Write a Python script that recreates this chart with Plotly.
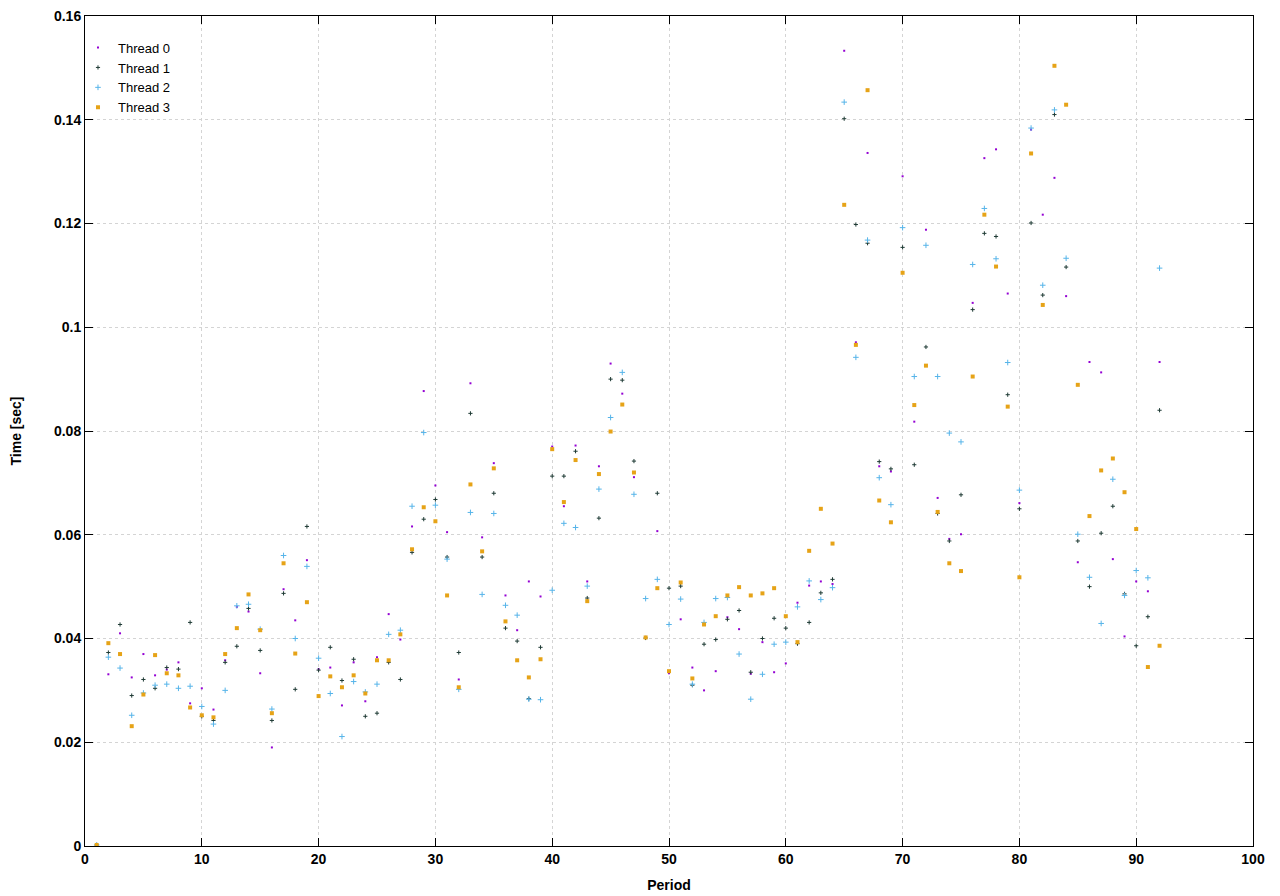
import plotly.graph_objects as go

periods = list(range(1, 93))

thread0 = [0.0002, 0.0331, 0.0410, 0.0325, 0.0370, 0.0329, 0.0340, 0.0354, 0.0275, 0.0304,
           0.0263, 0.0358, 0.0461, 0.0452, 0.0333, 0.0190, 0.0495, 0.0435, 0.0551, 0.0341,
           0.0344, 0.0271, 0.0354, 0.0279, 0.0364, 0.0447, 0.0398, 0.0616, 0.0877, 0.0695,
           0.0605, 0.0321, 0.0892, 0.0595, 0.0738, 0.0483, 0.0416, 0.0510, 0.0481, 0.0770,
           0.0655, 0.0772, 0.0510, 0.0732, 0.0930, 0.0872, 0.0711, 0.0403, 0.0607, 0.0333,
           0.0437, 0.0344, 0.0300, 0.0337, 0.0441, 0.0418, 0.0332, 0.0393, 0.0335, 0.0352,
           0.0469, 0.0502, 0.0510, 0.0505, 0.1533, 0.0971, 0.1336, 0.0732, 0.0722, 0.1291,
           0.0818, 0.1188, 0.0671, 0.0592, 0.0601, 0.1047, 0.1326, 0.1343, 0.1065, 0.0661,
           0.1381, 0.1217, 0.1288, 0.1060, 0.0547, 0.0933, 0.0913, 0.0553, 0.0404, 0.0510,
           0.0491, 0.0933]

thread1 = [0.0002, 0.0373, 0.0427, 0.0290, 0.0321, 0.0304, 0.0344, 0.0341, 0.0431, 0.0250,
           0.0242, 0.0354, 0.0385, 0.0458, 0.0377, 0.0242, 0.0487, 0.0302, 0.0616, 0.0339,
           0.0383, 0.0319, 0.0360, 0.0250, 0.0256, 0.0354, 0.0321, 0.0566, 0.0630, 0.0668,
           0.0557, 0.0373, 0.0834, 0.0557, 0.0680, 0.0420, 0.0395, 0.0284, 0.0383, 0.0713,
           0.0713, 0.0761, 0.0478, 0.0632, 0.0900, 0.0898, 0.0742, 0.0401, 0.0680, 0.0497,
           0.0501, 0.0310, 0.0389, 0.0398, 0.0437, 0.0454, 0.0335, 0.0400, 0.0439, 0.0420,
           0.0390, 0.0431, 0.0488, 0.0514, 0.1402, 0.1198, 0.1162, 0.0741, 0.0727, 0.1154,
           0.0735, 0.0962, 0.0641, 0.0588, 0.0677, 0.1034, 0.1181, 0.1175, 0.0870, 0.0650,
           0.1201, 0.1062, 0.1410, 0.1116, 0.0588, 0.0500, 0.0603, 0.0655, 0.0486, 0.0386,
           0.0442, 0.0840]

thread2 = [0.0002, 0.0364, 0.0343, 0.0252, 0.0295, 0.0310, 0.0312, 0.0304, 0.0308, 0.0269,
           0.0235, 0.0300, 0.0463, 0.0466, 0.0418, 0.0264, 0.0560, 0.0400, 0.0539, 0.0362,
           0.0294, 0.0211, 0.0317, 0.0297, 0.0312, 0.0408, 0.0416, 0.0655, 0.0797, 0.0657,
           0.0553, 0.0302, 0.0643, 0.0485, 0.0641, 0.0464, 0.0445, 0.0283, 0.0282, 0.0493,
           0.0622, 0.0614, 0.0501, 0.0688, 0.0826, 0.0913, 0.0678, 0.0477, 0.0514, 0.0427,
           0.0476, 0.0312, 0.0431, 0.0477, 0.0479, 0.0370, 0.0283, 0.0331, 0.0389, 0.0393,
           0.0461, 0.0511, 0.0475, 0.0498, 0.1434, 0.0942, 0.1168, 0.0710, 0.0658, 0.1192,
           0.0905, 0.1158, 0.0905, 0.0796, 0.0779, 0.1121, 0.1229, 0.1132, 0.0932, 0.0686,
           0.1384, 0.1081, 0.1419, 0.1133, 0.0601, 0.0518, 0.0429, 0.0707, 0.0483, 0.0531,
           0.0517, 0.1114]

thread3 = [0.0002, 0.0391, 0.0370, 0.0231, 0.0292, 0.0368, 0.0333, 0.0329, 0.0267, 0.0252,
           0.0248, 0.0370, 0.0420, 0.0485, 0.0416, 0.0256, 0.0545, 0.0371, 0.0470, 0.0289,
           0.0327, 0.0306, 0.0329, 0.0294, 0.0358, 0.0358, 0.0408, 0.0572, 0.0653, 0.0626,
           0.0483, 0.0306, 0.0697, 0.0568, 0.0728, 0.0433, 0.0358, 0.0325, 0.0360, 0.0765,
           0.0663, 0.0744, 0.0472, 0.0717, 0.0799, 0.0851, 0.0720, 0.0402, 0.0497, 0.0337,
           0.0508, 0.0323, 0.0427, 0.0443, 0.0483, 0.0499, 0.0483, 0.0487, 0.0497, 0.0443,
           0.0393, 0.0569, 0.0650, 0.0583, 0.1236, 0.0966, 0.1457, 0.0666, 0.0624, 0.1105,
           0.0850, 0.0926, 0.0644, 0.0545, 0.0530, 0.0905, 0.1217, 0.1117, 0.0847, 0.0518,
           0.1335, 0.1043, 0.1504, 0.1429, 0.0889, 0.0636, 0.0724, 0.0747, 0.0682, 0.0611,
           0.0345, 0.0386]

series_names = ["Thread 0", "Thread 1", "Thread 2", "Thread 3"]
series_values = [thread0, thread1, thread2, thread3]
series_colors = ["#9400d3", "#1e3a34", "#56b4e9", "#e6a317"]
series_symbols = ["square", "cross-thin", "cross-thin", "square"]
series_sizes = [2, 3, 4, 4]
series_linew = [0, 1, 1, 0]

x_ticks = list(range(0, 101, 10))
y_tickvals = [0, 0.02, 0.04, 0.06, 0.08, 0.1, 0.12, 0.14, 0.16]
y_ticktext = ["0", "0.02", "0.04", "0.06", "0.08", "0.1", "0.12", "0.14", "0.16"]

fig = go.Figure()
for name, vals, col, sym, sz, lw in zip(series_names, series_values, series_colors,
                                         series_symbols, series_sizes, series_linew):
    fig.add_trace(go.Scatter(
        x=periods, y=vals, mode="markers", name=name,
        marker=dict(color=col, symbol=sym, size=sz,
                    line=dict(color=col, width=lw)),
    ))

axis_common = dict(
    showline=True, linecolor="black", linewidth=1, mirror="ticks",
    ticks="inside", ticklen=8, tickcolor="black", tickwidth=1,
    showgrid=True, gridcolor="#d4d4d4", griddash="dot", gridwidth=1,
    zeroline=False, automargin=False, ticklabeloverflow="allow",
    tickfont=dict(family="Liberation Sans", size=14, color="black", weight="bold"),
)

fig.update_xaxes(range=[0, 100], tickvals=x_ticks, ticktext=[str(v) for v in x_ticks],
                 title=dict(text="Period", standoff=14,
                            font=dict(family="Liberation Sans", size=14, color="black", weight="bold")),
                 **axis_common)
fig.update_yaxes(range=[0, 0.16], tickvals=y_tickvals, ticktext=y_ticktext,
                 title=dict(text="Time [sec]", standoff=29,
                            font=dict(family="Liberation Sans", size=14, color="black", weight="bold")),
                 **axis_common)

fig.update_layout(
    width=1272, height=888,
    margin=dict(l=77, r=27, t=8, b=50),
    paper_bgcolor="white", plot_bgcolor="white",
    legend=dict(x=-0.006, y=0.98, xanchor="left", yanchor="top",
                bgcolor="rgba(0,0,0,0)", tracegroupgap=0, itemsizing="trace",
                font=dict(family="Liberation Sans", size=13, color="black")),
    showlegend=True,
)

fig.write_html("out.html")
